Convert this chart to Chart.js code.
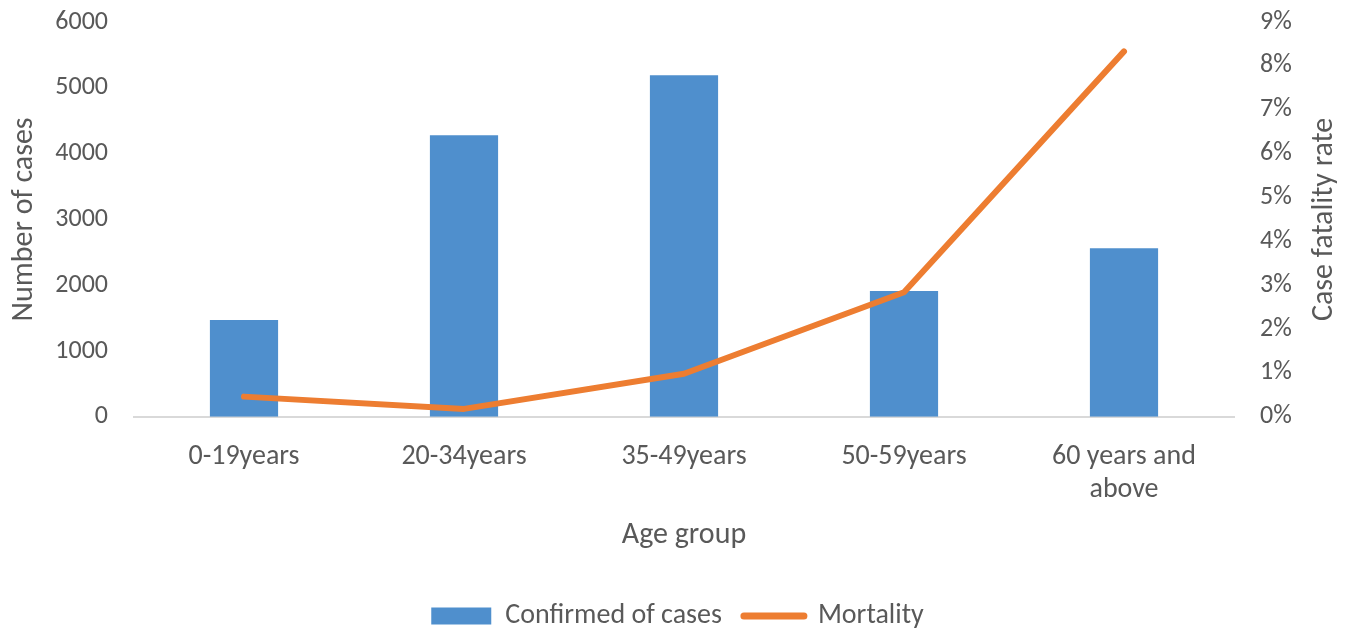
<!DOCTYPE html>
<html>
<head>
<meta charset="utf-8">
<script src="https://cdn.jsdelivr.net/npm/chart.js@4"></script>
<style>
  html, body { margin: 0; padding: 0; background: #ffffff; }
  #wrap { width: 1355px; height: 635px; }
</style>
</head>
<body>
<div id="wrap"><canvas id="chart" width="1355" height="635"></canvas></div>
<script>
// Age groups on the category axis
const ageGroups = ['0-19years', '20-34years', '35-49years', '50-59years', ['60 years and', 'above']];
// Confirmed cases per age group
const confirmedCases = [1470, 4280, 5190, 1910, 2560];
// Case fatality rate per age group, in percent
const mortalityRate = [0.46, 0.18, 0.98, 2.84, 8.33];
// Axis tick settings
const casesTicks = { min: 0, max: 6000, step: 1000 };
const rateTicks = { min: 0, max: 9, step: 1 };
// Axis titles
const xTitle = 'Age group';
const yTitle = 'Number of cases';
const y1Title = 'Case fatality rate';

const textColor = '#595959';
const fontFamily = 'Carlito, Calibri, Lato, "Open Sans", sans-serif';
const titleFont = { family: fontFamily, size: 30 };
const tickFontY = { family: fontFamily, size: 26 };

// Fixed side-axis widths and trimmed end padding so the plot spans the full height
const fixLeft = scale => { scale.width = 134; scale.paddingTop = 13; scale.paddingBottom = 13; };
const fixRight = scale => { scale.width = 121; scale.paddingTop = 13; scale.paddingBottom = 13; };

// The right-hand axis title reads bottom-to-top, like the left one
const rightTitle = {
  id: 'rightTitle',
  afterDraw(chart) {
    const { ctx, chartArea } = chart;
    ctx.save();
    ctx.translate(chartArea.right + 90, (chartArea.top + chartArea.bottom) / 2);
    ctx.rotate(-Math.PI / 2);
    ctx.font = `${titleFont.size}px ${titleFont.family}`;
    ctx.fillStyle = textColor;
    ctx.textAlign = 'center';
    ctx.textBaseline = 'middle';
    ctx.fillText(y1Title, 0, 0);
    ctx.restore();
  }
};

new Chart(document.getElementById('chart'), {
  type: 'bar',
  data: {
    labels: ageGroups,
    datasets: [
      {
        type: 'bar',
        label: 'Confirmed of cases',
        data: confirmedCases,
        backgroundColor: '#4F8FCD',
        borderWidth: 0,
        yAxisID: 'y',
        categoryPercentage: 1,
        barPercentage: 0.31,
        order: 2
      },
      {
        type: 'line',
        label: 'Mortality',
        data: mortalityRate,
        borderColor: '#ED7D31',
        backgroundColor: '#ED7D31',
        borderWidth: 6,
        borderCapStyle: 'round',
        borderJoinStyle: 'round',
        pointRadius: 0,
        tension: 0,
        yAxisID: 'y1',
        order: 1
      }
    ]
  },
  plugins: [rightTitle],
  options: {
    responsive: false,
    animation: false,
    layout: { padding: { left: 0, right: 0, top: 22, bottom: -5 } },
    plugins: {
      tooltip: { enabled: false },
      legend: {
        position: 'bottom',
        labels: {
          color: textColor,
          font: { family: fontFamily, size: 28 },
          usePointStyle: true,
          pointStyleWidth: 60,
          boxHeight: 17,
          padding: 22,
          generateLabels(chart) {
            return chart.data.datasets.map((ds, i) => ({
              text: ds.label,
              datasetIndex: i,
              fillStyle: ds.type === 'bar' ? ds.backgroundColor : ds.borderColor,
              strokeStyle: ds.type === 'bar' ? ds.backgroundColor : ds.borderColor,
              lineWidth: ds.type === 'bar' ? 0 : 7,
              lineCap: 'round',
              pointStyle: ds.type === 'bar' ? 'rect' : 'line',
              fontColor: textColor,
              hidden: false
            }));
          }
        }
      }
    },
    scales: {
      x: {
        offset: true,
        grid: { display: false, drawTicks: false },
        border: { display: true, color: '#D9D9D9', width: 2 },
        ticks: { color: textColor, font: { family: fontFamily, size: 28 }, padding: 23, maxRotation: 0, autoSkip: false },
        title: { display: true, text: xTitle, color: textColor, font: titleFont, padding: { top: -13, bottom: 27 } }
      },
      y: {
        position: 'left',
        min: casesTicks.min,
        max: casesTicks.max,
        afterFit: fixLeft,
        grid: { display: false, drawTicks: false },
        border: { display: false },
        ticks: { stepSize: casesTicks.step, color: textColor, font: tickFontY, padding: 26, callback: v => String(v) },
        title: { display: true, text: yTitle, color: textColor, font: titleFont, padding: { top: 6, bottom: 0 } }
      },
      y1: {
        position: 'right',
        min: rateTicks.min,
        max: rateTicks.max,
        afterFit: fixRight,
        grid: { display: false, drawTicks: false },
        border: { display: false },
        ticks: { stepSize: rateTicks.step, color: textColor, font: tickFontY, padding: 26, callback: v => v + '%' }
      }
    }
  }
});
</script>
</body>
</html>
